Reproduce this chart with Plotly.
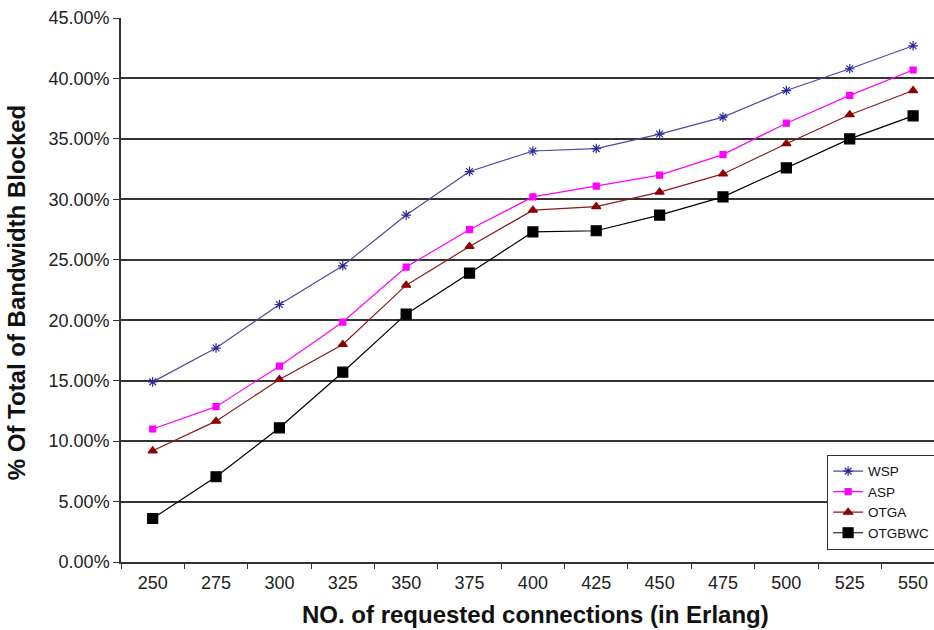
import plotly.graph_objects as go

categories = ["250", "275", "300", "325", "350", "375", "400", "425", "450", "475", "500", "525", "550"]
wsp = [14.9, 17.7, 21.3, 24.5, 28.7, 32.3, 34.0, 34.2, 35.4, 36.8, 39.0, 40.8, 42.7]
asp = [11.0, 12.85, 16.2, 19.85, 24.4, 27.5, 30.2, 31.1, 32.0, 33.7, 36.3, 38.6, 40.7]
otga = [9.2, 11.65, 15.1, 18.0, 22.9, 26.1, 29.1, 29.4, 30.6, 32.1, 34.6, 37.0, 39.0]
otgbwc = [3.6, 7.05, 11.1, 15.7, 20.5, 23.9, 27.3, 27.4, 28.7, 30.2, 32.6, 35.0, 36.9]

x_title = "NO. of requested connections (in Erlang)"
y_title = "% Of Total of Bandwidth Blocked"

series = [
    ("WSP", wsp, "#4a4aa8", "asterisk-open", 8, "#2a2a9a"),
    ("ASP", asp, "#ff00ff", "square", 6, "#ff00ff"),
    ("OTGA", otga, "#8b1a1a", "triangle-up", 8, "#8b0000"),
    ("OTGBWC", otgbwc, "#000000", "square", 10, "#000000"),
]

fig = go.Figure()
for name, vals, lc, sym, ms, mc in series:
    fig.add_trace(go.Scatter(
        x=categories, y=[v / 100 for v in vals], name=name, mode="lines+markers",
        line=dict(color=lc, width=1.2),
        marker=dict(symbol=sym, size=ms, color=mc, line=dict(color=mc, width=1.2)),
    ))

fig.update_layout(
    width=934, height=630,
    margin=dict(l=121, r=0, t=18, b=68, autoexpand=False),
    plot_bgcolor="white", paper_bgcolor="white",
    font=dict(family="Liberation Sans, Arial, sans-serif", color="#222222"),
    showlegend=True,
    legend=dict(x=0.8685, y=0.197, xanchor="left", yanchor="top",
                xref="paper", yref="paper",
                bgcolor="white", bordercolor="#333333", borderwidth=1,
                font=dict(size=13.5, color="#111111"), tracegroupgap=3,
                itemwidth=30),
    annotations=[
        dict(text="<b>" + x_title + "</b>", xref="paper", yref="paper",
             x=0.510, y=-0.0974, xanchor="center", yanchor="middle",
             showarrow=False, font=dict(size=24, color="#111111")),
        dict(text="<b>" + y_title + "</b>", xref="paper", yref="paper",
             x=-0.129, y=0.496, xanchor="center", yanchor="middle",
             textangle=-90, showarrow=False, font=dict(size=24, color="#111111")),
    ],
)
fig.update_xaxes(
    type="category", range=[-0.5, 12.33], automargin=False,
    tickson="boundaries", ticks="outside", ticklen=5, tickcolor="#333333",
    showline=True, linecolor="#333333", linewidth=1.5,
    showgrid=False, tickfont=dict(size=18, color="#222222"),
    ticklabelstandoff=4,
)
fig.update_yaxes(
    range=[0, 0.45], dtick=0.05, tickformat=".2%", automargin=False,
    ticks="outside", ticklen=6, tickcolor="#333333",
    showline=True, linecolor="#333333", linewidth=1.5,
    showgrid=True, gridcolor="#333333", gridwidth=1.5,
    zeroline=False, tickfont=dict(size=18, color="#222222"),
)

fig.write_html("out.html")
